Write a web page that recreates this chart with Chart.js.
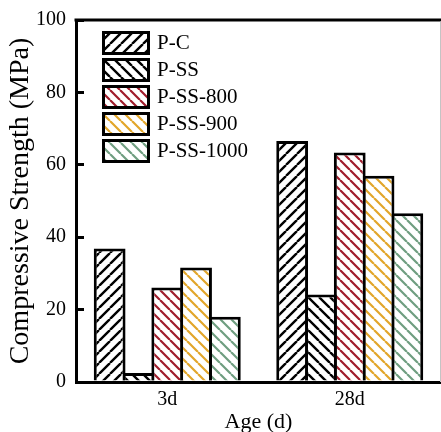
<!DOCTYPE html>
<html>
<head>
<meta charset="utf-8">
<script src="https://cdn.jsdelivr.net/npm/chart.js@4/dist/chart.umd.min.js"></script>
<style>
  html, body { margin: 0; padding: 0; background: #fff; }
  canvas { display: block; }
</style>
</head>
<body>
<canvas id="chart" width="441" height="432"></canvas>
<script>
const ages = ["3d", "28d"];
const seriesNames = ["P-C", "P-SS", "P-SS-800", "P-SS-900", "P-SS-1000"];
const pC = [36.9, 66.6];
const pSS = [2.5, 24.2];
const pSS800 = [26.1, 63.4];
const pSS900 = [31.6, 57.0];
const pSS1000 = [18.0, 46.6];
const yTicks = [0, 20, 40, 60, 80, 100];

const SERIF = "'Liberation Serif', 'Times New Roman', serif";
const $canvas = document.getElementById("chart");
const ctx = $canvas.getContext("2d");

// diagonal hatch tile, "/" or "\"
function hatch(color, size, dir, width) {
  const tile = document.createElement("canvas");
  tile.width = size;
  tile.height = size;
  const g = tile.getContext("2d");
  g.fillStyle = "#fff";
  g.fillRect(0, 0, size, size);
  g.strokeStyle = color;
  g.lineWidth = width;
  g.beginPath();
  for (let k = -1; k <= 1; k++) {
    if (dir === "/") {
      g.moveTo(k * size, size);
      g.lineTo(k * size + size, 0);
    } else {
      g.moveTo(k * size, 0);
      g.lineTo(k * size + size, size);
    }
  }
  g.stroke();
  return ctx.createPattern(tile, "repeat");
}

const fills = [
  hatch("#000", 11, "/", 2.4),
  hatch("#000", 11, "\\", 2.4),
  hatch("#a01d2c", 10, "\\", 2.2),
  hatch("#e2a62a", 11, "\\", 2.2),
  hatch("#6f9e80", 11, "\\", 2.2),
];
const values = [pC, pSS, pSS800, pSS900, pSS1000];

// top frame line + faint right edge
const frame = {
  id: "frame",
  afterDraw(chart) {
    const { ctx, chartArea } = chart;
    ctx.save();
    ctx.strokeStyle = "#000";
    ctx.lineWidth = 3;
    ctx.beginPath();
    ctx.moveTo(chartArea.left - 1.5, chartArea.top);
    ctx.lineTo(chartArea.right, chartArea.top);
    ctx.stroke();
    ctx.strokeStyle = "#c4c4c4";
    ctx.lineWidth = 1;
    ctx.beginPath();
    ctx.moveTo(chartArea.right - 0.5, chartArea.top + 1.5);
    ctx.lineTo(chartArea.right - 0.5, chartArea.bottom);
    ctx.stroke();
    ctx.restore();
  },
};

// stacked boxes legend inside the plot
const boxLegend = {
  id: "boxLegend",
  afterDraw(chart) {
    const { ctx, chartArea } = chart;
    const x0 = chartArea.left + 27.5;
    const y0 = chartArea.top + 12.5;
    ctx.save();
    ctx.font = "21px " + SERIF;
    ctx.textBaseline = "middle";
    chart.data.datasets.forEach((ds, i) => {
      const y = y0 + i * 27;
      ctx.fillStyle = ds.backgroundColor;
      ctx.fillRect(x0, y, 45, 21);
      ctx.lineWidth = 3;
      ctx.strokeStyle = "#000";
      ctx.strokeRect(x0, y, 45, 21);
      ctx.fillStyle = "#000";
      ctx.fillText(ds.label, x0 + 53.5, y + 11);
    });
    ctx.restore();
  },
};

new Chart(ctx, {
  type: "bar",
  data: {
    labels: ages,
    datasets: seriesNames.map((name, i) => ({
      label: name,
      data: values[i],
      backgroundColor: fills[i],
    })),
  },
  options: {
    responsive: false,
    animation: false,
    devicePixelRatio: 1,
    layout: { padding: { top: 20, right: 0, bottom: 0, left: 0 } },
    plugins: {
      legend: { display: false },
      tooltip: { enabled: false },
    },
    datasets: {
      bar: {
        categoryPercentage: 0.789,
        barPercentage: 1.104,
        borderColor: "#000",
        borderWidth: 3,
        borderSkipped: "start",
      },
    },
    scales: {
      x: {
        z: 1,
        grid: { display: true, drawOnChartArea: false, drawTicks: false },
        border: { color: "#000", width: 3 },
        ticks: { color: "#000", font: { family: SERIF, size: 20 }, padding: 6 },
        title: {
          display: true,
          text: "Age (d)",
          color: "#000",
          font: { family: SERIF, size: 22, lineHeight: 1 },
          padding: { top: 0, bottom: -1 },
        },
        afterFit: (s) => { s.height = 50; },
      },
      y: {
        z: 1,
        min: 0,
        max: 100,
        afterBuildTicks: (s) => { s.ticks = yTicks.map((v) => ({ value: v })); },
        grid: {
          drawOnChartArea: false,
          drawTicks: true,
          tickLength: -8,
          color: "#000",
          lineWidth: 3,
        },
        border: { color: "#000", width: 3 },
        ticks: { color: "#000", font: { family: SERIF, size: 20 }, padding: 18 },
        title: {
          display: true,
          text: "Compressive Strength (MPa)",
          color: "#000",
          font: { family: SERIF, size: 28, lineHeight: 1 },
          padding: { top: 7, bottom: 0 },
        },
        afterFit: (s) => {
          s.width = 76;
          // the large label padding only shifts labels sideways here
          s.paddingTop = 12;
          s.paddingBottom = 12;
        },
      },
    },
  },
  plugins: [frame, boxLegend],
});
</script>
</body>
</html>
